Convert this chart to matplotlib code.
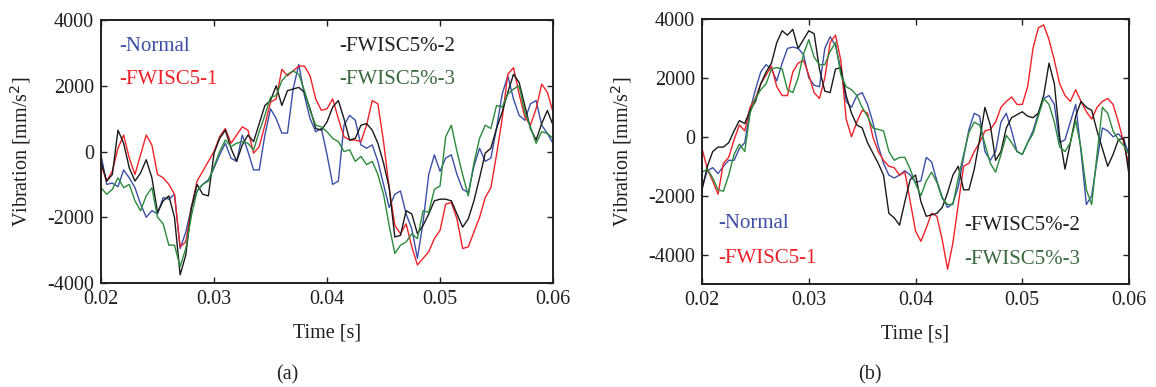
import numpy as np
import matplotlib
matplotlib.use("Agg")
import matplotlib.pyplot as plt

plt.rcParams['font.family'] = ['Liberation Serif', 'DejaVu Serif']

# time grid (s) shared by all series
t_start, t_step, n_pts = 0.02, 0.0005, 81
time = t_start + t_step * np.arange(n_pts)

# ---------------- panel (a) ----------------
a_normal = [-100, -1000, -960, -1070, -560, -800, -1100, -1600, -2000, -1800,
            -1900, -1400, -1450, -1300, -2950, -2450, -1700, -1200, -1000, -860,
            -500, -100, 250, -200, -300, 500, 0, -560, -560, 500,
            1300, 1000, 560, 560, 1900, 2650, 1700, 1000, 600, 700,
            -100, -1000, -900, 800, 1100, 950, 200, 100, 200, -300,
            -1000, -1700, -1300, -1200, -1900, -2350, -3250, -2150, -700, -100,
            -600, -200, -100, -700, -1150, -1250, -450, 100, -300, -200,
            700, 1750, 2300, 1600, 1100, 950, 1450, 1550, 800, 550, 250]
a_fw1 = [-400, -900, -600, 100, 500, -200, -700, -100, 500, 200,
         -700, -800, -1000, -1300, -2900, -2750, -1700, -900, -600, -300,
         0, 450, 700, 250, 500, 750, 650, -50, 150, 800,
         1500, 1600, 2500, 2300, 2450, 2600, 2600, 2300, 1600, 1250,
         1300, 1600, 1000, 450, 350, 350, 300, 800, 1550, 1450,
         300, -1100, -2250, -2500, -2200, -2900, -3450, -3250, -3050, -2650,
         -2400, -1600, -1550, -2050, -2950, -2900, -2450, -2000, -1400, -1100,
         -100, 1000, 2350, 2550, 1750, 1050, 800, 1300, 2050, 1800, 1200]
a_fw2 = [-300, -900, -700, 650, 250, -500, -900, -650, -250, -800,
         -1850, -1500, -1350, -2000, -3750, -3150, -1700, -1000, -1300, -1350,
         -50, 400, 650, 100, -300, 200, 500, 300, 850, 1400,
         1550, 2000, 1400, 1850, 1900, 1950, 1800, 1300, 700, 650,
         900, 1350, 1550, 1000, 350, 400, 800, 850, 650, 250,
         -350, -1100, -2600, -2550, -1800, -1900, -2500, -2250, -1900, -1500,
         -1450, -1450, -1500, -1900, -2300, -2050, -1500, -800, -50, 100,
         700, 1200, 1800, 2350, 2100, 1400, 700, 350, 850, 1250, 800]
a_fw3 = [-1100, -1300, -1150, -800, -1100, -1000, -1500, -1800, -1350, -1100,
         -2000, -2200, -2850, -2850, -3500, -2950, -1950, -1200, -1000, -900,
         -450, 0, 350, 150, 250, 300, 250, 50, 600, 1100,
         1650, 1700, 2150, 2350, 2450, 2350, 1850, 1250, 800, 750,
         600, 400, 300, 0, 50, -300, -150, -400, -300, -700,
         -1300, -2250, -3100, -2850, -2750, -2500, -2650, -1800, -1850, -1150,
         -1050, 450, 800, 0, -700, -1350, -350, 400, 800, 700,
         1400, 1350, 1750, 1900, 2000, 1200, 750, 250, 600, 550, 400]

# ---------------- panel (b) ----------------
b_normal = [-1700, -1150, -1050, -1250, -1000, -800, -800, -400, -200, 900,
            1600, 2200, 2450, 2300, 1900, 2500, 3000, 3050, 3000, 2800,
            2000, 1750, 1700, 3000, 3400, 3100, 2300, 1200, 1000, 1400,
            1500, 1100, 500, -300, -900, -1300, -1400, -1300, -1150, -1300,
            -1550, -1500, -700, -850, -1500, -2050, -2400, -2250, -1700, -700,
            250, 800, 700, -500, -800, -500, 500, 800, 200, -500,
            -600, -200, 200, 800, 1300, 1400, 1100, -200, -100, 500,
            1100, -500, -2300, -2000, -800, 300, 200, 0, 100, -100, -600]
b_fw1 = [-400, -1100, -1500, -1950, -900, -700, -100, 400, 200, 1000,
         1300, 1800, 2100, 2400, 1700, 1400, 1400, 2200, 2500, 2600,
         2100, 1500, 1300, 2000, 3200, 3450, 2600, 600, 0, 500,
         900, 800, 0, -500, -800, -1000, -1050, -1300, -1200, -2200,
         -3200, -3550, -3100, -2600, -2700, -3500, -4500, -3600, -2300, -1000,
         -900, -500, -200, 200, 250, 500, 1000, 1200, 1350, 1100,
         1100, 1700, 3000, 3700, 3800, 3300, 2600, 1800, 1400, 1200,
         1600, 1200, 850, 600, 1000, 1200, 1300, 1100, 500, -200, -1000]
b_fw2 = [-1800, -1000, -500, -350, -350, -200, 200, 550, 450, 900,
         1200, 1800, 2200, 2500, 3200, 3600, 3450, 3650, 3000, 3300,
         3600, 3500, 2300, 1550, 1500, 2300, 2350, 1400, 800, 400,
         300, -200, -550, -900, -1300, -2600, -2750, -3000, -2200, -1450,
         -1300, -2200, -2700, -2650, -2600, -2400, -1900, -1300, -1000, -1800,
         -1800, -1100, -100, 1000, 400, -800, -500, 300, 650, 750,
         850, 700, 650, 800, 1400, 2500, 1800, 0, -1100, -200,
         700, 1200, 1000, 900, 200, -400, -1000, -600, -100, -50, -1300]
b_fw3 = [-1200, -1100, -1400, -1800, -1850, -1300, -600, -250, -500, 800,
         1300, 1600, 1800, 2300, 2350, 2300, 1600, 1500, 2000, 2800,
         3300, 2700, 2450, 2450, 2900, 3200, 2100, 1700, 1600, 1400,
         1000, 700, 300, 250, 200, -500, -800, -700, -700, -1100,
         -1600, -2000, -1500, -1200, -1550, -2100, -2300, -2300, -1400, -600,
         150, 500, 400, -250, -900, -1200, -600, 50, -200, -500,
         -600, -200, 100, 700, 1300, 1100, 500, -350, -500, -200,
         550, -400, -1800, -2300, -600, 1000, 800, 200, -100, -300, -600]

series_names = ['-Normal', '-FWISC5-1', '-FWISC5%-2', '-FWISC5%-3']
line_colors = ['#3a50a8', '#ee2228', '#1a1a1a', '#2b8a3c']
text_colors = ['#3d4fa6', '#ee2228', '#231f20', '#3a6a3e']

xticks = [0.02, 0.03, 0.04, 0.05, 0.06]
xtick_labels = ['0.02', '0.03', '0.04', '0.05', '0.06']
yticks_a = [-4000, -2000, 0, 2000, 4000]
yticks_b = [-4000, -2000, 0, 2000, 4000]

fig = plt.figure(figsize=(11.56, 3.87), dpi=100)
ax_a = fig.add_axes([0.0874, 0.2687, 0.3910, 0.6796])
ax_b = fig.add_axes([0.6073, 0.2661, 0.3694, 0.6848])


def style(ax, ylim, yticks):
    ax.set_xlim(0.02, 0.06)
    ax.set_ylim(*ylim)
    ax.set_xticks(xticks)
    ax.set_xticklabels(xtick_labels)
    ax.set_yticks(yticks)
    ax.set_yticklabels([str(v) for v in yticks])
    ax.tick_params(direction='in', length=4, width=1.0, top=True, right=True,
                   labelsize=14.5, pad=5, colors='#231f20')
    for s in ax.spines.values():
        s.set_linewidth(1.4)
        s.set_color('#231f20')
    ax.set_xlabel('Time [s]', fontsize=14.5, labelpad=10.5, color='#231f20')
    ax.set_ylabel('Vibration [mm/s$^2$]', fontsize=14.5, labelpad=10, color='#231f20')


for ax, data in ((ax_a, [a_normal, a_fw1, a_fw2, a_fw3]),
                 (ax_b, [b_normal, b_fw1, b_fw2, b_fw3])):
    for vals, c in zip(data, line_colors):
        ax.plot(time, vals, color=c, lw=1.0)

style(ax_a, (-4000, 4000), yticks_a)
style(ax_b, (-5000, 4000), yticks_b)

# in-plot labels (panel a)
leg_a = [(0.0216, 3200), (0.0216, 2200), (0.0411, 3200), (0.0411, 2200)]
for (x, y), name, c in zip(leg_a, series_names, text_colors):
    ax_a.text(x, y, name, color=c, fontsize=15, va='center', ha='left')
# in-plot labels (panel b)
leg_b = [(0.0215, -2930), (0.0215, -4150), (0.0446, -3000), (0.0446, -4180)]
for (x, y), name, c in zip(leg_b, series_names, text_colors):
    ax_b.text(x, y, name, color=c, fontsize=15, va='center', ha='left')

fig.text(287 / 1156, 1 - 375 / 387, '(a)', fontsize=14.5, ha='center', va='center', color='#231f20')
fig.text(870 / 1156, 1 - 375 / 387, '(b)', fontsize=14.5, ha='center', va='center', color='#231f20')

fig.savefig('out.png', dpi=100)
